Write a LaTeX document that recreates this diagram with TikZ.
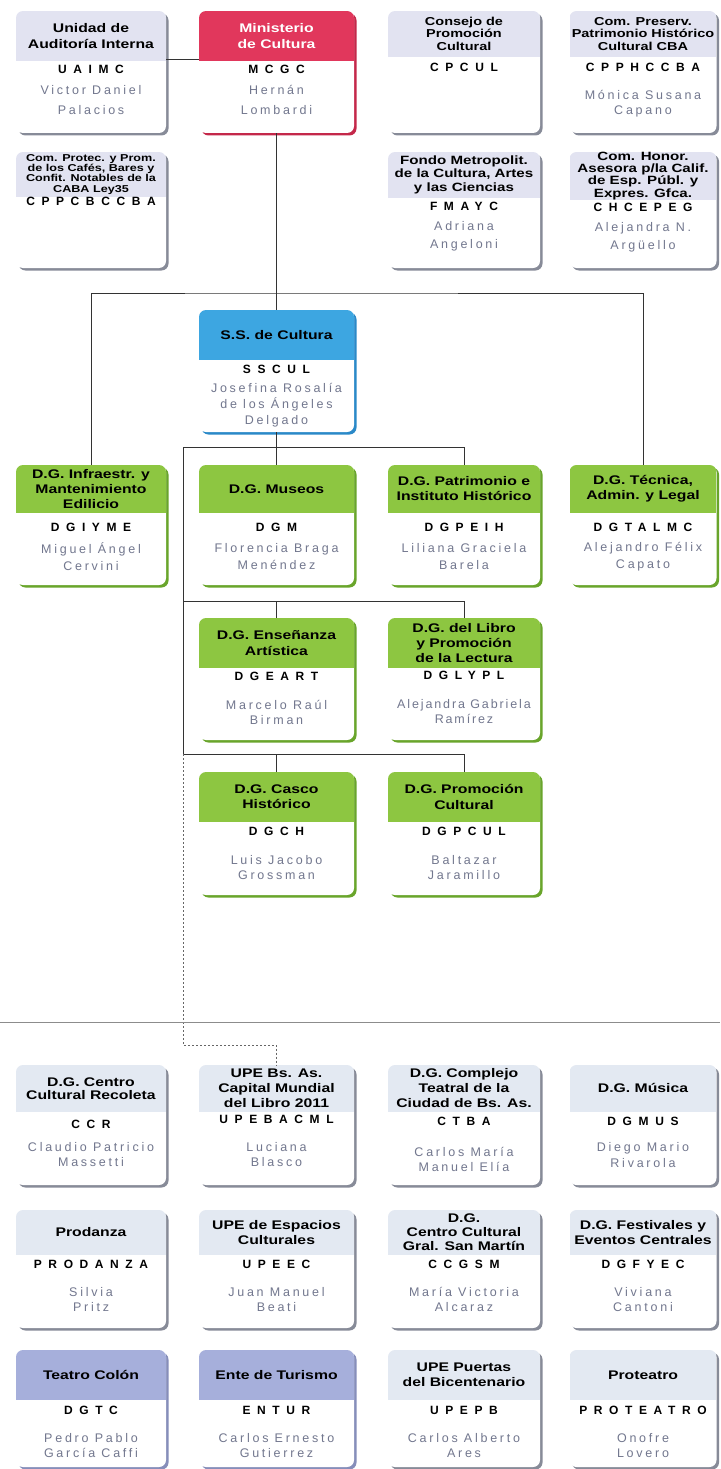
\documentclass[tikz,border=0pt]{standalone}
\usepackage{fontspec}
\setmainfont{Liberation Sans}
\newfontfamily\hfont{Liberation Sans}[FakeStretch=1.26]
\newfontfamily\cfont{Liberation Sans}[LetterSpace=55]
\newfontfamily\nfont{Liberation Sans}[LetterSpace=22]
\newfontfamily\nfontb{Liberation Sans}[LetterSpace=15]
\usetikzlibrary{shadows}

\definecolor{lav}{HTML}{E2E3F1}
\definecolor{lavedge}{HTML}{878B98}
\definecolor{lavb}{HTML}{E3E9F2}
\definecolor{lavbedge}{HTML}{878B98}
\definecolor{rojo}{HTML}{E1375C}
\definecolor{rojoedge}{HTML}{C4284A}
\definecolor{azul}{HTML}{3DA6E1}
\definecolor{azuledge}{HTML}{2A89C8}
\definecolor{verde}{HTML}{8DC641}
\definecolor{verdeedge}{HTML}{69A52B}
\definecolor{lila}{HTML}{A6AFDB}
\definecolor{lilaedge}{HTML}{868EBA}
\definecolor{nombre}{HTML}{72778E}

\tikzset{
  bw/.store in=\bw, bh/.store in=\bh, ctop/.store in=\ctop, ngap/.store in=\ngap,
  bw=150pt, bh=120pt, ctop=59pt, ngap=35pt,
  card/.style 2 args={rectangle, rounded corners=7pt, fill=white, inner sep=0pt,
    minimum width=\bw, minimum height=\bh,
    drop shadow={shadow xshift=2.5pt, shadow yshift=-2.5pt, fill=#1edge, opacity=1},
    path picture={\fill[#1, sharp corners] (path picture bounding box.north west)
      rectangle ([yshift=-#2]path picture bounding box.north east);}},
  hdr/.style={font=\hfont\bfseries\fontsize{12.5}{15.5}\selectfont, align=center, inner sep=0pt},
  code/.style={font=\cfont\bfseries\fontsize{12}{14}\selectfont, inner sep=0pt},
  who/.style={font=\nfont\fontsize{12.5}{15.5}\selectfont, text=nombre, align=center, inner sep=0pt},
  hs/.style 2 args={hdr/.append style={font=\hfont\bfseries\fontsize{#1}{#2}\selectfont}},
  nsk/.style={who/.append style={font=\nfont\fontsize{12.5}{#1}\selectfont}},
  link/.style={draw=black!80, line width=1pt},
  trazo/.style={draw=black!60, line width=0.8pt, dash pattern=on 2pt off 2pt},
  corte/.style={draw=black!45, line width=0.7pt},
}

% caja: [opciones]{nombre}{centro}{color}{alto cabecera}{titulo}{sigla}{titular}
\newcommand{\caja}[8][]{%
  \begin{scope}[#1]
    \node[card={#4}{#5}] (#2) at #3 {};
    \node[hdr] (#2-hd) at ([yshift=-#5/2]#2.north) {#6};
    \node[code] (#2-cd) at ([yshift=-\ctop]#2.north) {#7};
    \node[who] (#2-nm) at ([yshift=-\ngap]#2-cd.center) {#8};
  \end{scope}}

\begin{document}
\begin{tikzpicture}[x=1pt,y=-1pt]
\useasboundingbox (0,0) rectangle (720,1469);

% Ministerio y organismos
\begin{scope}[bh=122pt, ngap=30pt, nsk=20pt]
\caja[bw=150pt]{uaimc}{(91,72)}{lav}{50pt}{Unidad de\\Auditoría Interna}{UAIMC}{Victor Daniel\\Palacios}
\caja[bw=155pt, hdr/.append style={text=white}]{mcgc}{(276.5,72)}{rojo}{50pt}{Ministerio\\de Cultura}{MCGC}{Hernán\\Lombardi}
\caja[bw=152pt, hs={11.5}{12.5}, ctop=57pt]{cpcul}{(464,72)}{lav}{46pt}{Consejo de\\Promoción\\Cultural}{CPCUL}{}
\caja[bw=147pt, hs={11.5}{12.5}, ctop=57pt, ngap=36pt, nsk=15pt]{cpphccba}{(643,72)}{lav}{46pt}{Com. Preserv.\\Patrimonio Histórico\\Cultural CBA}{CPPHCCBA}{Mónica Susana\\Capano}
\end{scope}

\begin{scope}[bh=116pt, ngap=29pt, nsk=18pt]
\caja[bw=150pt, hs={10}{10.2}, ctop=50pt]{cppcbccba}{(91,210)}{lav}{45pt}{Com. Protec. y Prom.\\de los Cafés, Bares y\\Confit. Notables de la\\CABA Ley35}{CPPCBCCBA}{}
\caja[bw=152pt, hs={12}{13.5}, ctop=55pt]{fmayc}{(464,210)}{lav}{46pt}{Fondo Metropolit.\\de la Cultura, Artes\\y las Ciencias}{FMAYC}{Adriana\\Angeloni}
\caja[bw=147pt, hs={12}{12.3}, ctop=56pt]{chcepeg}{(643,210)}{lav}{48pt}{Com. Honor.\\Asesora p/la Calif.\\de Esp. Públ. y\\Expres. Gfca.}{CHCEPEG}{Alejandra N.\\Argüello}
\end{scope}

% Subsecretaria
\caja[bw=155pt, bh=122pt, ctop=60pt, ngap=35.5pt, nsk=16pt]{sscul}{(276.5,371)}{azul}{50pt}{S.S. de Cultura}{SSCUL}{Josefina Rosalía\\de los Ángeles\\Delgado}

% Direcciones generales
\begin{scope}[bh=120pt, ctop=63pt, ngap=28.5pt, nsk=17pt, hs={12.5}{15}]
\caja[bw=150pt]{dgiyme}{(91,525)}{verde}{48pt}{D.G. Infraestr. y\\Mantenimiento\\Edilicio}{DGIYME}{Miguel Ángel\\Cervini}
\caja[bw=155pt]{dgm}{(276.5,525)}{verde}{48pt}{D.G. Museos}{DGM}{Florencia Braga\\Menéndez}
\caja[bw=152pt]{dgpeih}{(464,525)}{verde}{48pt}{D.G. Patrimonio e\\Instituto Histórico}{DGPEIH}{Liliana Graciela\\Barela}
\caja[bw=147pt]{dgtalmc}{(643,525)}{verde}{48pt}{D.G. Técnica,\\Admin. y Legal}{DGTALMC}{Alejandro Félix\\Capato}
\end{scope}

\begin{scope}[bh=122pt, ctop=59pt, ngap=35.5pt, hs={12.5}{15.5}]
\caja[bw=155pt]{dgeart}{(276.5,679)}{verde}{50pt}{D.G. Enseñanza\\Artística}{DGEART}{Marcelo Raúl\\Birman}
\caja[bw=152pt, hs={12.5}{15}, ctop=58pt, who/.append style={font=\nfontb\fontsize{12.5}{15.5}\selectfont}]{dglypl}{(464,679)}{verde}{50pt}{D.G. del Libro\\y Promoción\\de la Lectura}{DGLYPL}{Alejandra Gabriela\\Ramírez}
\end{scope}

\begin{scope}[bh=123pt, ctop=60pt, ngap=35.5pt]
\caja[bw=155pt]{dgch}{(276.5,833.5)}{verde}{50pt}{D.G. Casco\\Histórico}{DGCH}{Luis Jacobo\\Grossman}
\caja[bw=152pt]{dgpcul}{(464,833.5)}{verde}{50pt}{D.G. Promoción\\Cultural}{DGPCUL}{Baltazar\\Jaramillo}
\end{scope}

% Organismos fuera de nivel
\begin{scope}[bh=120pt, ctop=57pt, ngap=33pt, hs={12.5}{15}]
\caja[bw=150pt, hs={12.5}{13}, ctop=60pt, ngap=29.5pt]{ccr}{(91,1125)}{lavb}{47pt}{D.G. Centro\\Cultural Recoleta}{CCR}{Claudio Patricio\\Massetti}
\caja[bw=155pt, ctop=55pt, ngap=34.5pt]{upebacml}{(276.5,1125)}{lavb}{47pt}{UPE Bs. As.\\Capital Mundial\\del Libro 2011}{UPEBACML}{Luciana\\Blasco}
\caja[bw=152pt, ngap=37.5pt]{ctba}{(464,1125)}{lavb}{47pt}{D.G. Complejo\\Teatral de la\\Ciudad de Bs. As.}{CTBA}{Carlos María\\Manuel Elía}
\caja[bw=147pt]{dgmus}{(643,1125)}{lavb}{47pt}{D.G. Música}{DGMUS}{Diego Mario\\Rivarola}
\end{scope}

\begin{scope}[bh=118pt, ctop=55pt, ngap=34.5pt, hs={12.5}{15}]
\caja[bw=150pt]{prodanza}{(91,1269)}{lavb}{45pt}{Prodanza}{PRODANZA}{Silvia\\Pritz}
\caja[bw=155pt]{upeec}{(276.5,1269)}{lavb}{45pt}{UPE de Espacios\\Culturales}{UPEEC}{Juan Manuel\\Beati}
\caja[bw=152pt, hs={12.5}{14}]{ccgsm}{(464,1269)}{lavb}{45pt}{D.G.\\Centro Cultural\\Gral. San Martín}{CCGSM}{María Victoria\\Alcaraz}
\caja[bw=147pt]{dgfyec}{(643,1269)}{lavb}{45pt}{D.G. Festivales y\\Eventos Centrales}{DGFYEC}{Viviana\\Cantoni}
\end{scope}

\begin{scope}[bh=117pt, ctop=61pt, ngap=34.5pt, hs={12.5}{15}]
\caja[bw=150pt]{dgtc}{(91,1408.5)}{lila}{50pt}{Teatro Colón}{DGTC}{Pedro Pablo\\García Caffi}
\caja[bw=155pt]{entur}{(276.5,1408.5)}{lila}{50pt}{Ente de Turismo}{ENTUR}{Carlos Ernesto\\Gutierrez}
\caja[bw=152pt]{upepb}{(464,1408.5)}{lavb}{50pt}{UPE Puertas\\del Bicentenario}{UPEPB}{Carlos Alberto\\Ares}
\caja[bw=147pt]{proteatro}{(643,1408.5)}{lavb}{50pt}{Proteatro}{PROTEATRO}{Onofre\\Lovero}
\end{scope}

% conectores
\coordinate (bus1) at (276.5,293);
\coordinate (bus2) at (183,447);
\coordinate (bus3) at (183,601);
\coordinate (bus4) at (183,754);
\coordinate (bus5) at (183,1045);
\draw[link] ([yshift=12pt]uaimc.east) -- ([yshift=12pt]mcgc.west);
\draw[link] (mcgc.south) -- (sscul.north);
\draw[link] (dgiyme.north) |- (bus1) -| (dgtalmc.north);
\draw[link] (sscul.south) -- (dgm.north);
\draw[link] (bus2) -| (dgpeih.north);
\draw[link] (bus3) -| (dglypl.north);
\draw[link] (bus4) -| (dgpcul.north);
\draw[link] (bus2) -- (bus4);
\draw[link] (dgeart.north |- bus3) -- (dgeart.north);
\draw[link] (dgch.north |- bus4) -- (dgch.north);
\draw[trazo] (bus4) -- (bus5) -| (upebacml.north);

% linea de corte
\draw[corte] (0,1022) -- (720,1022);

\end{tikzpicture}
\end{document}
